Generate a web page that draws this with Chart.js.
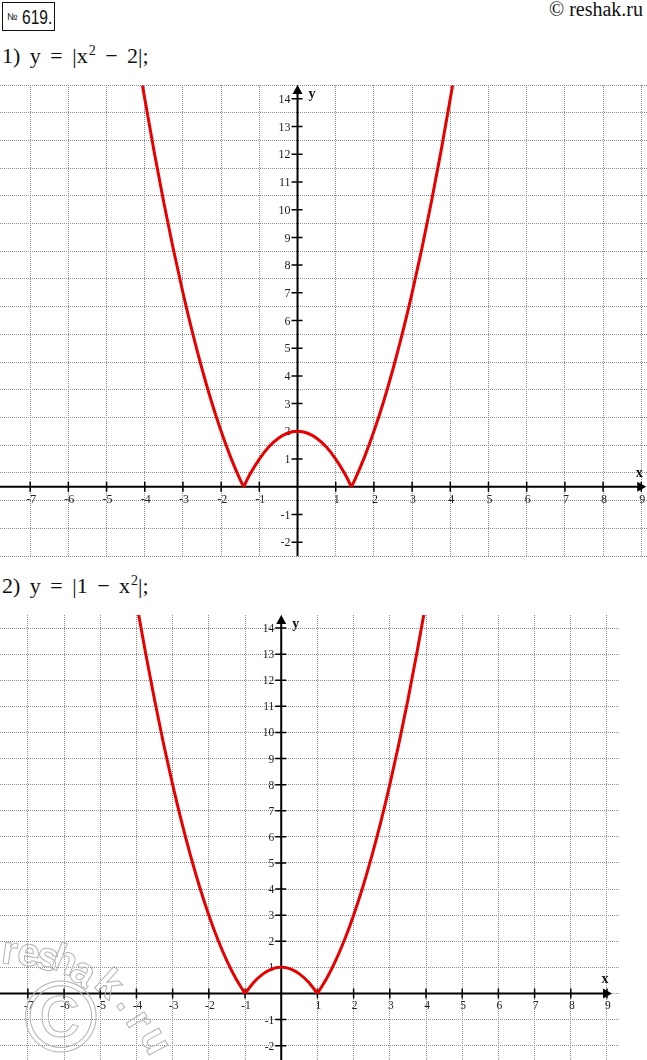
<!DOCTYPE html>
<html lang="ru">
<head>
<meta charset="utf-8">
<title>№ 619</title>
<script src="https://cdn.jsdelivr.net/npm/chart.js@4.4.1/dist/chart.umd.min.js"></script>
<style>
  html, body { margin: 0; padding: 0; background: #fff; }
  body { position: relative; width: 647px; height: 1060px; overflow: hidden; }
  .box {
    position: absolute; left: 2px; top: 2px; width: 51px; height: 27px; overflow: hidden;
    border: 1.5px solid #111; color: #111; white-space: nowrap;
    font: 20px "Liberation Sans", sans-serif; line-height: 28px;
  }
  .box .no { position: absolute; left: 4px; top: 0; font-size: 10px; }
  .box .num { position: absolute; left: 19px; top: 0; display: inline-block; transform: scaleX(0.78); transform-origin: left center; }
  .copy { position: absolute; right: 4px; top: -1px; font: 20px "Liberation Serif", serif; color: #111; line-height: 21px; }
  .title { position: absolute; left: 2px; font: 22px "Liberation Serif", serif; color: #111; line-height: 22px; word-spacing: 4px; white-space: nowrap; }
  .title sup { font-size: 14px; vertical-align: 8px; line-height: 0; margin-left: 1px; }
  canvas { position: absolute; left: 0; }
  .wm { position: absolute; font: bold 40px "Liberation Sans", sans-serif; color: transparent;
        -webkit-text-stroke: 1px #b4b4b4; line-height: 40px; transform-origin: center center; }
</style>
</head>
<body>
<div class="box"><span class="no">№</span><span class="num">619.</span></div>
<div class="copy">© reshak.ru</div>
<div class="title" style="top:45px">1) y = |x<sup>2</sup> − 2|;</div>
<div class="title" style="top:575px">2) y = |1 − x<sup>2</sup>|;</div>

<canvas id="graph1" width="647" height="485" style="top:75px"></canvas>
<canvas id="graph2" width="620" height="455" style="top:605px"></canvas>

<div id="wm"></div>

<script>
// tick values on both axes (0 is not labelled)
const xTickValues = [-7, -6, -5, -4, -3, -2, -1, 0, 1, 2, 3, 4, 5, 6, 7, 8, 9];
const yTickValues = [-2, -1, 0, 1, 2, 3, 4, 5, 6, 7, 8, 9, 10, 11, 12, 13, 14];

// 1) y = |x^2 - 2|, read off the picture branch by branch
const g1LeftX = [-4.06, -3.75, -3.5, -3.25, -3, -2.75, -2.5, -2.25, -2, -1.75, -1.5, -1.41];
const g1LeftY = [14.48, 12.06, 10.25, 8.56, 7, 5.56, 4.25, 3.06, 2, 1.06, 0.25, 0];
const g1MidX = [-1.41, -1.25, -1, -0.75, -0.5, -0.25, 0, 0.25, 0.5, 0.75, 1, 1.25, 1.41];
const g1MidY = [0, 0.44, 1, 1.44, 1.75, 1.94, 2, 1.94, 1.75, 1.44, 1, 0.44, 0];
const g1RightX = [1.41, 1.5, 1.75, 2, 2.25, 2.5, 2.75, 3, 3.25, 3.5, 3.75, 4.06];
const g1RightY = [0, 0.25, 1.06, 2, 3.06, 4.25, 5.56, 7, 8.56, 10.25, 12.06, 14.48];

// 2) y = |1 - x^2|
const g2LeftX = [-3.94, -3.75, -3.5, -3.25, -3, -2.75, -2.5, -2.25, -2, -1.75, -1.5, -1.25, -1];
const g2LeftY = [14.52, 13.06, 11.25, 9.56, 8, 6.56, 5.25, 4.06, 3, 2.06, 1.25, 0.56, 0];
const g2MidX = [-1, -0.75, -0.5, -0.25, 0, 0.25, 0.5, 0.75, 1];
const g2MidY = [0, 0.44, 0.75, 0.94, 1, 0.94, 0.75, 0.44, 0];
const g2RightX = [1, 1.25, 1.5, 1.75, 2, 2.25, 2.5, 2.75, 3, 3.25, 3.5, 3.75, 3.94];
const g2RightY = [0, 0.56, 1.25, 2.06, 3, 4.06, 5.25, 6.56, 8, 9.56, 11.25, 13.06, 14.52];

// axes with arrows, tick marks and labels, drawn under the curve
const axisPlugin = {
    id: 'axisArrows',
    beforeDatasetsDraw(chart, args, opts) {
        const { ctx, chartArea, scales: { x, y } } = chart;
        const ox = x.getPixelForValue(0);
        const oy = y.getPixelForValue(0);
        const xTip = x.getPixelForValue(opts.xTip);
        const yTip = y.getPixelForValue(opts.yTip);

        ctx.save();
        ctx.strokeStyle = '#000';
        ctx.fillStyle = '#000';
        ctx.lineWidth = 2;
        ctx.beginPath();
        ctx.moveTo(chartArea.left, oy);
        ctx.lineTo(xTip - 6, oy);
        ctx.moveTo(ox, chartArea.bottom);
        ctx.lineTo(ox, yTip + 6);
        ctx.stroke();

        ctx.beginPath();
        ctx.moveTo(xTip, oy);
        ctx.lineTo(xTip - 9, oy - 5);
        ctx.lineTo(xTip - 9, oy + 5);
        ctx.closePath();
        ctx.moveTo(ox, yTip);
        ctx.lineTo(ox - 5, yTip + 9);
        ctx.lineTo(ox + 5, yTip + 9);
        ctx.closePath();
        ctx.fill();

        ctx.lineWidth = 1.5;
        ctx.beginPath();
        opts.xTicks.forEach(v => {
            if (v === 0) return;
            const px = x.getPixelForValue(v);
            ctx.moveTo(px, oy - 5);
            ctx.lineTo(px, oy + 5);
        });
        opts.yTicks.forEach(v => {
            if (v === 0) return;
            const py = y.getPixelForValue(v);
            ctx.moveTo(ox - 6, py);
            ctx.lineTo(ox + 5, py);
        });
        ctx.stroke();

        ctx.font = opts.fontSize + 'px "Liberation Serif", serif';
        ctx.fillStyle = '#222';
        ctx.textAlign = 'center';
        ctx.textBaseline = 'top';
        opts.xTicks.forEach(v => {
            if (v === 0) return;
            ctx.fillText(String(v), x.getPixelForValue(v) + 1, oy + 7);
        });
        ctx.textAlign = 'right';
        ctx.textBaseline = 'middle';
        opts.yTicks.forEach(v => {
            if (v === 0) return;
            ctx.fillText(String(v), ox - 7, y.getPixelForValue(v) + 1);
        });

        ctx.font = 'bold 14px "Liberation Serif", serif';
        ctx.fillStyle = '#111';
        ctx.textBaseline = 'alphabetic';
        ctx.textAlign = 'center';
        ctx.fillText('x', xTip - 7, oy - 10);
        ctx.textAlign = 'left';
        ctx.fillText('y', ox + 11, yTip + 13);
        ctx.restore();
    }
};

function branch(xs, ys) {
    return {
        data: xs.map((v, i) => ({ x: v, y: ys[i] })),
        showLine: true,
        borderColor: '#e80000',
        borderWidth: 3,
        pointRadius: 0,
        fill: false,
        cubicInterpolationMode: 'monotone'
    };
}

function drawGraph(canvasId, branches, range) {
    const ctx = document.getElementById(canvasId).getContext('2d');
    const gridStyle = {
        grid: { color: '#8e8e8e', lineWidth: 1, drawTicks: false },
        border: { display: false, dash: [1, 1] }
    };
    return new Chart(ctx, {
        type: 'scatter',
        data: { datasets: branches },
        options: {
            responsive: false,
            animation: false,
            layout: { padding: { top: range.padTop, bottom: range.padBottom, left: 0, right: 0 } },
            plugins: {
                legend: { display: false },
                tooltip: { enabled: false },
                axisArrows: {
                    xTip: range.xTip,
                    yTip: 14.5,
                    xTicks: xTickValues,
                    yTicks: yTickValues,
                    fontSize: range.fontSize
                }
            },
            scales: {
                x: {
                    type: 'linear', min: range.xMin, max: range.xMax,
                    ticks: { display: false, stepSize: 1, includeBounds: false },
                    ...gridStyle
                },
                y: {
                    type: 'linear', min: range.yMin, max: 14.5,
                    ticks: { display: false, stepSize: 1, includeBounds: false },
                    ...gridStyle
                }
            }
        },
        plugins: [axisPlugin]
    });
}

drawGraph('graph1',
    [branch(g1LeftX, g1LeftY), branch(g1MidX, g1MidY), branch(g1RightX, g1RightY)],
    { xMin: -7.79, xMax: 9.15, yMin: -2.5, xTip: 9.13, padTop: 10, padBottom: 4, fontSize: 12 });

drawGraph('graph2',
    [branch(g2LeftX, g2LeftY), branch(g2MidX, g2MidY), branch(g2RightX, g2RightY)],
    { xMin: -7.77, xMax: 9.36, yMin: -2.55, xTip: 9.14, padTop: 10, padBottom: 0, fontSize: 11.5 });

// watermark: outlined letters along a curve
const wmLetters = ['r', 'e', 's', 'h', 'a', 'k', '.', 'r', 'u'];
const wmLeft = [2, 18, 37, 53, 73, 99, 124, 133, 145];
const wmTop = [930, 932, 936, 939, 951, 963, 980, 1000, 1020];
const wmAngle = [8, 10, 14, 22, 32, 42, 52, 58, 62];
const wm = document.getElementById('wm');
wmLetters.forEach((ch, i) => {
    const s = document.createElement('span');
    s.className = 'wm';
    s.textContent = ch;
    s.style.left = wmLeft[i] + 'px';
    s.style.top = wmTop[i] + 'px';
    s.style.transform = 'rotate(' + wmAngle[i] + 'deg)';
    wm.appendChild(s);
});
const circ = document.createElement('span');
circ.className = 'wm';
circ.textContent = '©';
circ.style.font = '100px "Liberation Sans", sans-serif';
circ.style.lineHeight = '100px';
circ.style.left = '24px';
circ.style.top = '966px';
wm.appendChild(circ);
</script>
</body>
</html>
